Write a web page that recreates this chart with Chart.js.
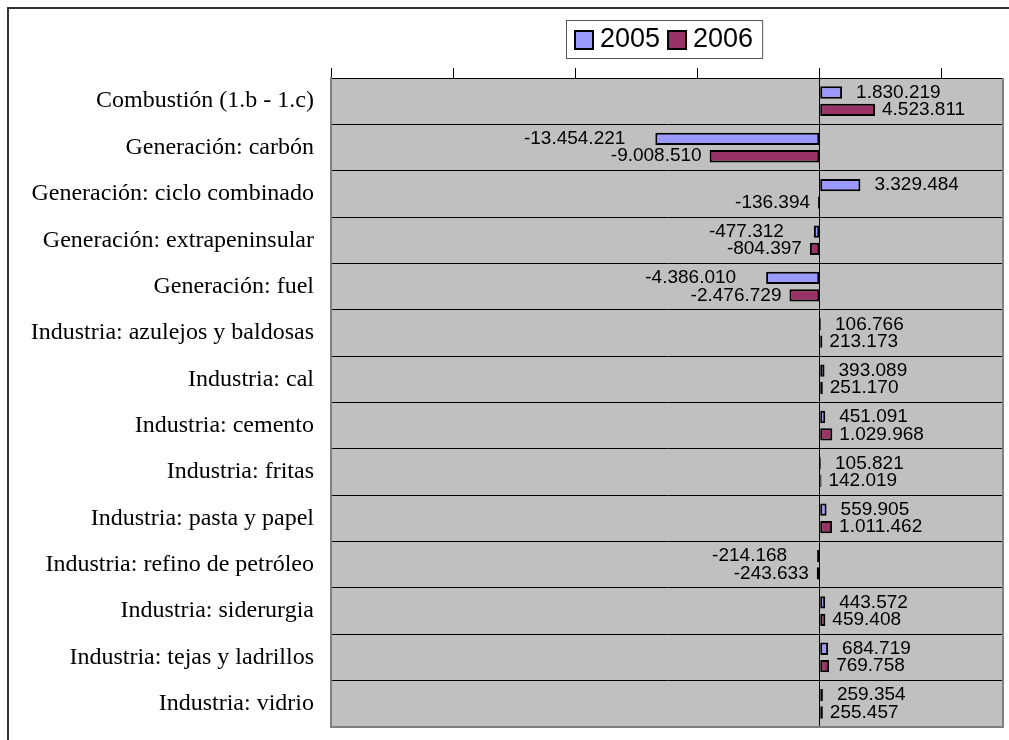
<!DOCTYPE html>
<html>
<head>
<meta charset="utf-8">
<script src="https://cdn.jsdelivr.net/npm/chart.js@4.4.0/dist/chart.umd.min.js"></script>
<style>
  html, body { margin: 0; padding: 0; background: #fff; }
  #wrap { width: 1009px; height: 740px; }
</style>
</head>
<body>
<div id="wrap"><canvas id="grafico" width="1009" height="740"></canvas></div>
<script>
// Categorías (eje vertical)
const categorias = [
    'Combustión (1.b - 1.c)',
    'Generación: carbón',
    'Generación: ciclo combinado',
    'Generación: extrapeninsular',
    'Generación: fuel',
    'Industria: azulejos y baldosas',
    'Industria: cal',
    'Industria: cemento',
    'Industria: fritas',
    'Industria: pasta y papel',
    'Industria: refino de petróleo',
    'Industria: siderurgia',
    'Industria: tejas y ladrillos',
    'Industria: vidrio'
];

// Valores por año
const serie2005 = [1830219, -13454221, 3329484, -477312, -4386010, 106766, 393089, 451091, 105821, 559905, -214168, 443572, 684719, 259354];
const serie2006 = [4523811, -9008510, -136394, -804397, -2476729, 213173, 251170, 1029968, 142019, 1011462, -243633, 459408, 769758, 255457];
const nombresSeries = ['2005', '2006'];

// Eje horizontal
const ticksX = [-40000000, -30000000, -20000000, -10000000, 0, 10000000];
const ejeMin = -40000000;
const ejeMax = 15000000;

const colores = ['#9999FF', '#993366'];

function formatoES(v) {
    const s = String(Math.abs(v)).replace(/\B(?=(\d{3})+(?!\d))/g, '.');
    return (v < 0 ? '-' : '') + s;
}

// Fondo, marco, área gris, leyenda y etiquetas
const fondoPlugin = {
    id: 'fondo',
    beforeDraw(chart) {
        const ctx = chart.ctx;
        const a = chart.chartArea;
        ctx.save();
        ctx.fillStyle = '#fff';
        ctx.fillRect(0, 0, chart.width, chart.height);
        ctx.strokeStyle = '#333';
        ctx.lineWidth = 2;
        ctx.beginPath();
        ctx.moveTo(8, chart.height);
        ctx.lineTo(8, 8);
        ctx.lineTo(chart.width, 8);
        ctx.stroke();
        ctx.fillStyle = '#C0C0C0';
        ctx.fillRect(a.left, a.top, a.right - a.left, a.bottom - a.top);
        ctx.restore();
    },
    afterDraw(chart) {
        const ctx = chart.ctx;
        const a = chart.chartArea;
        ctx.save();
        // borde del área
        ctx.strokeStyle = '#808080';
        ctx.lineWidth = 2;
        ctx.beginPath();
        ctx.moveTo(a.left, a.top);
        ctx.lineTo(a.left, a.bottom);
        ctx.lineTo(a.right, a.bottom);
        ctx.lineTo(a.right, a.top);
        ctx.stroke();

        // leyenda centrada sobre el área
        ctx.font = '27px "Liberation Sans", Arial, sans-serif';
        const cuadro = 18, sep = 7, hueco = 8, padX = 9;
        let ancho = padX * 2;
        const anchos = chart.data.datasets.map(d => ctx.measureText(d.label).width);
        anchos.forEach((w, i) => { ancho += cuadro + sep + w + (i > 0 ? hueco : 0); });
        const cx = (a.left + a.right) / 2;
        const x0 = Math.round(cx - ancho / 2) - 3;
        const y0 = 20, alto = 38;
        ctx.fillStyle = '#fff';
        ctx.fillRect(x0, y0, ancho, alto);
        ctx.strokeStyle = '#555';
        ctx.lineWidth = 1;
        ctx.strokeRect(x0 + 0.5, y0 + 0.5, ancho, alto);
        let x = x0 + padX;
        chart.data.datasets.forEach((d, i) => {
            if (i > 0) x += hueco;
            ctx.fillStyle = d.backgroundColor;
            ctx.fillRect(x, y0 + 11, cuadro, cuadro);
            ctx.strokeStyle = '#000';
            ctx.lineWidth = 2;
            ctx.strokeRect(x, y0 + 11, cuadro, cuadro);
            x += cuadro + sep;
            ctx.fillStyle = '#000';
            ctx.textBaseline = 'middle';
            ctx.textAlign = 'left';
            ctx.fillText(d.label, x, y0 + alto / 2 + 1);
            x += anchos[i];
        });
        ctx.restore();
    },
    afterDatasetsDraw(chart) {
        const ctx = chart.ctx;
        ctx.save();
        ctx.font = '19px "Liberation Sans", Arial, sans-serif';
        ctx.fillStyle = '#000';
        ctx.textBaseline = 'middle';
        chart.data.datasets.forEach((d, i) => {
            const meta = chart.getDatasetMeta(i);
            meta.data.forEach((bar, j) => {
                const v = d.data[j];
                const txt = formatoES(v);
                if (v >= 0) {
                    ctx.textAlign = 'left';
                    ctx.fillText(txt, bar.x + (i === 0 ? 14 : 7), bar.y);
                } else {
                    ctx.textAlign = 'right';
                    ctx.fillText(txt, bar.x - (i === 0 ? 30 : 8), bar.y);
                }
            });
        });
        ctx.restore();
    }
};

const ctx = document.getElementById('grafico').getContext('2d');

new Chart(ctx, {
    type: 'bar',
    data: {
        labels: categorias,
        datasets: [
            {
                label: nombresSeries[0],
                data: serie2005,
                backgroundColor: colores[0],
                borderColor: '#000',
                borderWidth: 2,
                borderSkipped: false
            },
            {
                label: nombresSeries[1],
                data: serie2006,
                backgroundColor: colores[1],
                borderColor: '#000',
                borderWidth: 2,
                borderSkipped: false
            }
        ]
    },
    options: {
        indexAxis: 'y',
        responsive: false,
        animation: false,
        barPercentage: 0.71,
        categoryPercentage: 0.75,
        layout: {
            padding: { top: 68, right: 6, bottom: 13, left: 0 }
        },
        plugins: {
            legend: { display: false },
            tooltip: { enabled: false }
        },
        scales: {
            x: {
                position: 'top',
                min: ejeMin,
                max: ejeMax,
                afterBuildTicks: scale => {
                    scale.ticks = ticksX.map(v => ({ value: v }));
                },
                afterFit: scale => {
                    scale.height = 10;
                    scale.paddingLeft = 0;
                    scale.paddingRight = 0;
                },
                ticks: { display: false },
                grid: {
                    drawOnChartArea: true,
                    drawTicks: true,
                    tickLength: 10,
                    tickColor: '#000',
                    color: c => (c.tick && c.tick.value === 0 ? '#000' : 'rgba(0,0,0,0)'),
                    lineWidth: 1
                },
                border: { display: true, color: '#000', width: 1 }
            },
            y: {
                afterFit: scale => {
                    scale.width = 331;
                    scale.paddingTop = 0;
                    scale.paddingBottom = 0;
                },
                ticks: {
                    color: '#000',
                    padding: 17,
                    font: { family: '"Liberation Serif", "Times New Roman", serif', size: 24 }
                },
                grid: {
                    color: '#000',
                    lineWidth: 1,
                    drawTicks: false,
                    offset: true
                },
                border: { display: true, color: '#808080', width: 2 }
            }
        }
    },
    plugins: [fondoPlugin]
});
</script>
</body>
</html>
